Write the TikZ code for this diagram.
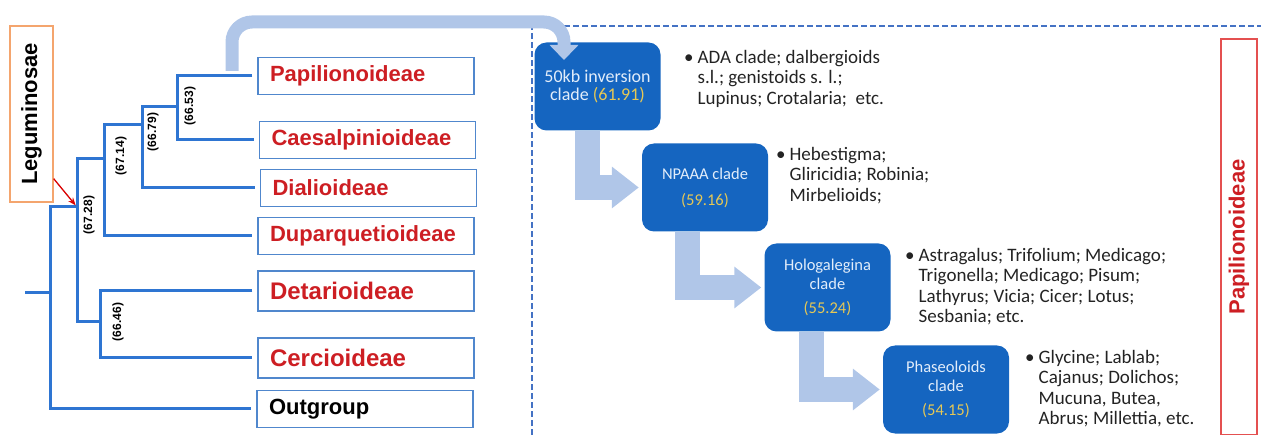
\documentclass[tikz,border=0pt]{standalone}
\usepackage{fontspec}
\setmainfont{Carlito}
\newfontfamily\arial{Liberation Sans}
\usetikzlibrary{arrows.meta,calc}
\definecolor{treeblue}{RGB}{46,117,210}
\definecolor{famborder}{RGB}{80,135,205}
\definecolor{boxblue}{RGB}{21,101,192}
\definecolor{lightarrow}{RGB}{176,198,232}
\definecolor{frameblue}{RGB}{68,114,196}
\definecolor{redtxt}{RGB}{205,30,35}
\definecolor{goldtxt}{RGB}{230,200,85}
\definecolor{boxtxt}{RGB}{226,237,250}
\definecolor{orangeb}{RGB}{244,165,110}
\definecolor{redbox}{RGB}{228,80,80}
\definecolor{bodytxt}{RGB}{35,35,35}
\begin{document}
\begin{tikzpicture}[x=1pt,y=-1pt,
  tree/.style={draw=treeblue,line width=3pt},
  famlabel/.style={draw=famborder,line width=1.2pt,fill=white,minimum width=216pt,
    minimum height=37pt,text width=192pt,align=left,inner xsep=12pt,inner ysep=0pt,
    font=\arial\bfseries\fontsize{22}{26}\selectfont,text=redtxt},
  biglabel/.style={famlabel,minimum height=40pt,font=\arial\bfseries\fontsize{24}{28}\selectfont},
  agelab/.style={inner sep=0pt,font=\arial\bfseries\fontsize{12}{14}\selectfont},
  cladebox/.style={fill=boxblue,rounded corners=12pt,minimum width=126pt,minimum height=88pt,
    align=center,text=boxtxt,inner sep=2pt,font=\fontsize{16.5}{19}\selectfont},
  flow/.style={draw=lightarrow,line width=25pt,-{Triangle[length=27pt,width=40pt]},shorten >=3pt},
  bigflow/.style={draw=lightarrow,line width=13pt,rounded corners=20pt,-{Triangle[length=15pt,width=28pt]}},
  bullettxt/.style={anchor=north west,inner sep=0pt,align=left,text=bodytxt,
    font=\fontsize{19}{20.5}\selectfont},
  framedash/.style={draw=frameblue,line width=1.2pt,dash pattern=on 6pt off 3pt}
]
\useasboundingbox (0,0) rectangle (1261,435);

% dashed frame
\draw[framedash] (532,435) -- (532,26) -- (1261,26);

% Leguminosae label
\node[draw=orangeb,line width=1.3pt,minimum width=43pt,minimum height=176pt,inner sep=0pt,
  font=\arial\bfseries\fontsize{22}{26}\selectfont] (legum) at (31.5,114) {\rotatebox{90}{Leguminosae}};

% subfamily boxes
\node[famlabel] (pap)  at (366,76)   {Papilionoideae};
\node[famlabel] (caes) at (367.5,140){Caesalpinioideae};
\node[famlabel] (dial) at (368.5,188){Dialioideae};
\node[famlabel] (dup)  at (366,236)  {Duparquetioideae};
\node[biglabel] (det)  at (366,291)  {Detarioideae};
\node[biglabel] (cerc) at (366,358)  {Cercioideae};
\node[famlabel,text=black] (out) at (365,409) {Outgroup};

% tree internal nodes
\coordinate (N4) at (177,107);
\coordinate (N3) at (142,125);
\coordinate (N2) at (104,159);
\coordinate (N1) at (77,207);
\coordinate (N5) at (100,322);
\coordinate (R)  at (50,293);
\coordinate (stub) at (25,293);

\draw[tree] ([xshift=-5pt]pap.west) -| (N4) |- ([xshift=-5pt]caes.west);
\draw[tree] (N4) -| (N3) |- ([xshift=-5pt]dial.west);
\draw[tree] (N3) -| (N2) |- ([xshift=-5pt]dup.west);
\draw[tree] (N2) -| (N1) |- (N5);
\draw[tree] ([xshift=-5pt]det.west) -| (N5) |- ([xshift=-5pt]cerc.west);
\draw[tree] (N1) -| (R) |- ([xshift=-5pt]out.west);
\draw[tree] (stub) -- (R);

% age labels
\node[agelab] (a1) at (190,106) {\rotatebox{90}{(66.53)}};
\node[agelab] (a2) at (153,132) {\rotatebox{90}{(66.79)}};
\node[agelab] (a3) at (121,156) {\rotatebox{90}{(67.14)}};
\node[agelab] (a4) at (89,215)  {\rotatebox{90}{(67.28)}};
\node[agelab] (a5) at (118,322) {\rotatebox{90}{(66.46)}};

% red arrow
\draw[draw=red!85!black,line width=1.3pt,-{Stealth[length=8pt,width=6pt]},shorten >=2pt]
  ([yshift=24pt]legum.south east) -- (N1);

% clade boxes
\node[cladebox,font=\fontsize{18}{18.5}\selectfont] (c1) at (597.5,86.5)
  {50kb inversion\\clade \textcolor{goldtxt}{(61.91)}};
\node[cladebox] (c2) at (705,187.5) {NPAAA clade\\[7pt]\textcolor{goldtxt}{(59.16)}};
\node[cladebox] (c3) at (827.5,287.5) {Hologalegina\\clade\\[5pt]\textcolor{goldtxt}{(55.24)}};
\node[cladebox] (c4) at (946,389.5) {Phaseoloids\\clade\\[5pt]\textcolor{goldtxt}{(54.15)}};

% flow arrows
\draw[flow] ([xshift=-10pt]c1.south) |- (c2.west);
\draw[flow] ([xshift=-18pt]c2.south) |- (c3.west);
\draw[flow] ([xshift=-16pt]c3.south) |- (c4.west);

% big arrow from Papilionoideae
\coordinate (papstart) at (232,71);
\coordinate (bigtop) at (564,22);
\coordinate (bigend) at (564,60);
\draw[bigflow] (papstart) |- (bigtop) -- (bigend);

% member lists
\node[bullettxt] (t1) at (684,50) {•\hspace{4pt}ADA clade; dalbergioids\\
  \phantom{•\hspace{4pt}}s.l.; genistoids s. l.;\\
  \phantom{•\hspace{4pt}}Lupinus; Crotalaria;\ \ etc.};
\node[bullettxt] (t2) at (776,147) {•\hspace{4pt}Hebestigma;\\
  \phantom{•\hspace{4pt}}Gliricidia; Robinia;\\
  \phantom{•\hspace{4pt}}Mirbelioids;};
\node[bullettxt] (t3) at (905,248) {•\hspace{4pt}Astragalus; Trifolium; Medicago;\\
  \phantom{•\hspace{4pt}}Trigonella; Medicago; Pisum;\\
  \phantom{•\hspace{4pt}}Lathyrus; Vicia; Cicer; Lotus;\\
  \phantom{•\hspace{4pt}}Sesbania; etc.};
\node[bullettxt] (t4) at (1025,350) {•\hspace{4pt}Glycine; Lablab;\\
  \phantom{•\hspace{4pt}}Cajanus; Dolichos;\\
  \phantom{•\hspace{4pt}}Mucuna, Butea,\\
  \phantom{•\hspace{4pt}}Abrus; Millettia, etc.};

% right Papilionoideae label
\node[draw=redbox,line width=1.2pt,minimum width=36pt,minimum height=396pt,inner sep=0pt,
  text=redtxt,font=\arial\bfseries\fontsize{22}{26}\selectfont] (papr) at (1239,237)
  {\rotatebox{90}{Papilionoideae}};
\end{tikzpicture}
\end{document}
